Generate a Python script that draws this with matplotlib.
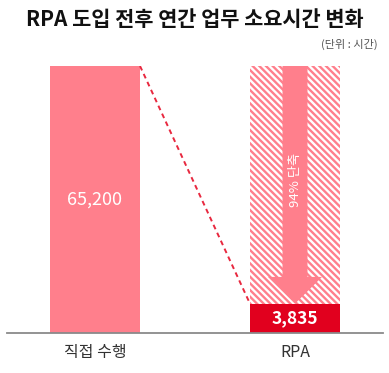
import numpy as np
import matplotlib
matplotlib.use('Agg')
import matplotlib.pyplot as plt
import matplotlib.transforms as mtransforms
from matplotlib.patches import Polygon

plt.rcParams['font.family'] = ['Noto Sans CJK KR', 'DejaVu Sans']
plt.rcParams['hatch.linewidth'] = 1.7

# data
categories = ['직접 수행', 'RPA']
hours = [65200, 3835]
title = 'RPA 도입 전후 연간 업무 소요시간 변화'
unit = '(단위 : 시간)'
arrow_label = '94% 단축'

pink = '#ff7f8c'
red = '#e1001e'

W, H = 389, 373
fig = plt.figure(figsize=(W/100, H/100), dpi=100)
ax = fig.add_axes([7/W, 40/H, 376/W, 267/H])

# stretch the low end a bit so the small bar stays readable
p = 0.78
fwd = lambda y: np.power(np.maximum(y, 0), p)
inv = lambda y: np.power(np.maximum(y, 0), 1/p)
ax.set_yscale('function', functions=(fwd, inv))
ax.set_ylim(0, hours[0])
ax.set_xlim(-0.44, 1.44)

bw = 0.45
x = np.arange(len(categories))
ax.bar(x[0], hours[0], width=bw, color=pink, zorder=2)
# hatched "before" ghost bar behind RPA
ax.bar(x[1], hours[0], width=bw, color='white', edgecolor=pink, hatch='\\' * 5, lw=0, zorder=1)
ax.bar(x[1], hours[1], width=bw, color=red, zorder=3)

# dashed connector
ax.plot([x[0] + bw/2, x[1] - bw/2], [hours[0], hours[1]], color='#e8283f',
        ls=(0, (2.5, 2)), lw=1.4, zorder=2)

# arrow down (x in data, y in axes fraction)
trans = mtransforms.blended_transform_factory(ax.transData, ax.transAxes)
tip = fwd(hours[1]) / fwd(hours[0])
sw, hw = 0.0625, 0.135
yh = 0.21
pts = [(x[1]-sw, 1.0), (x[1]+sw, 1.0), (x[1]+sw, yh), (x[1]+hw, yh),
       (x[1], tip), (x[1]-hw, yh), (x[1]-sw, yh)]
ax.add_patch(Polygon(pts, closed=True, transform=trans, color=pink, lw=0, zorder=2))
ax.text(x[1], 0.573, arrow_label, transform=trans, rotation=90, color='white',
        ha='center', va='center', fontsize=9.5, zorder=4)

# value labels
ax.text(x[0], 0.5, f'{hours[0]:,}', transform=trans, color='white',
        ha='center', va='center', fontsize=13, fontweight='medium', zorder=4)
ax.text(x[1], tip/2, f'{hours[1]:,}', transform=trans, color='white',
        ha='center', va='center', fontsize=12.5, fontweight='bold', zorder=4)

ax.axhline(0, color='#8a8a8a', lw=1.3, zorder=5, clip_on=False)
for s in ax.spines.values():
    s.set_visible(False)
ax.set_yticks([])
ax.set_xticks(x, categories, fontsize=11.5, color='#333333')
ax.tick_params(axis='x', length=0, pad=8)

fig.text(0.5, 1 - 20/H, title, ha='center', va='center', fontsize=15,
         fontweight='bold', color='#111111')
fig.text(378/W, 1 - 44/H, unit, ha='right', va='center', fontsize=8,
         color='#555555')

fig.savefig('out.png', dpi=100)
